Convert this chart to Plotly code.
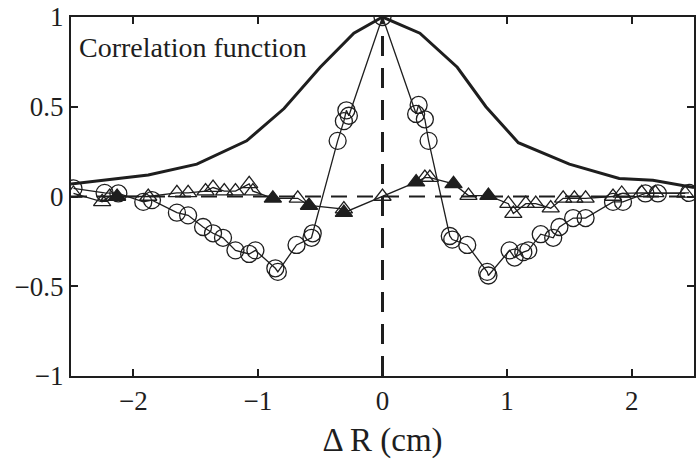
import plotly.graph_objects as go

# Envelope (correlation function)
env_x = [-2.5, -1.88, -1.49, -1.09, -0.79, -0.5, -0.23, 0.0, 0.3, 0.6, 0.83, 1.09, 1.5, 1.9, 2.17, 2.5]
env_y = [0.07, 0.12, 0.18, 0.31, 0.49, 0.72, 0.91, 1.0, 0.91, 0.72, 0.50, 0.30, 0.18, 0.10, 0.09, 0.05]

# Circles series
circ_x = [-2.48, -2.23, -2.12, -1.92, -1.85, -1.65, -1.56, -1.44, -1.36, -1.28,
          -1.18, -1.07, -1.02, -0.86, -0.84, -0.69, -0.57, -0.56,
          -0.36, -0.31, -0.29, -0.27, 0.0,
          0.27, 0.29, 0.34, 0.37,
          0.54, 0.56, 0.68, 0.84, 0.85, 1.02, 1.06, 1.13, 1.17,
          1.27, 1.37, 1.42, 1.53, 1.63, 1.85, 1.93, 2.11, 2.21, 2.46]
circ_y = [0.045, 0.02, 0.017, -0.03, -0.02, -0.09, -0.105, -0.17, -0.205, -0.23,
          -0.30, -0.32, -0.30, -0.40, -0.42, -0.27, -0.23, -0.205,
          0.31, 0.42, 0.48, 0.45, 1.0,
          0.46, 0.51, 0.43, 0.31,
          -0.22, -0.24, -0.27, -0.42, -0.44, -0.30, -0.34, -0.31, -0.30,
          -0.21, -0.23, -0.17, -0.12, -0.12, -0.03, -0.03, 0.017, 0.017, 0.02]

# Triangles series
tri_x = [-2.48, -2.25, -2.19, -2.13, -1.88, -1.65, -1.56, -1.42, -1.36, -1.27,
         -1.18, -1.07, -1.04, -0.88, -0.68, -0.59, -0.31, -0.31, 0.0,
         0.27, 0.34, 0.38, 0.57, 0.69, 0.85, 1.01, 1.05, 1.15, 1.23, 1.35,
         1.45, 1.54, 1.63, 1.85, 1.92, 2.08, 2.19, 2.43]
tri_y = [0.017, -0.03, 0.0, 0.0, 0.0, 0.02, 0.02, 0.03, 0.05, 0.03,
         0.03, 0.07, 0.03, -0.01, -0.01, -0.05, -0.07, -0.09, 0.0,
         0.08, 0.105, 0.105, 0.07, 0.005, 0.005, -0.04, -0.095, -0.04, -0.04, -0.065,
         -0.01, -0.01, -0.01, 0.0, 0.017, 0.02, 0.02, 0.017]
tri_filled = [0, 0, 0, 1, 0, 0, 0, 0, 0, 0,
              0, 0, 0, 1, 0, 1, 0, 1, 0,
              1, 0, 0, 1, 0, 1, 0, 0, 0, 0, 0,
              0, 0, 0, 0, 0, 0, 0, 0]

zero_x = [-2.5, 2.5]
zero_y = [0, 0]
vert_x = [0, 0]
vert_y = [-1, 1]

x_ticks = [-2, -1, 0, 1, 2]
y_ticks = [-1, -0.5, 0, 0.5, 1]

ink = "#1e1e1e"
serif = "Liberation Serif"
fig = go.Figure()

fig.add_trace(go.Scatter(x=zero_x, y=zero_y, mode="lines",
                         line=dict(color=ink, width=2, dash="16px,10px"), showlegend=False))
fig.add_trace(go.Scatter(x=vert_x, y=vert_y, mode="lines",
                         line=dict(color=ink, width=3, dash="20px,12px"), showlegend=False))
fig.add_trace(go.Scatter(x=env_x, y=env_y, mode="lines",
                         line=dict(color=ink, width=3), showlegend=False))
fig.add_trace(go.Scatter(x=circ_x, y=circ_y, mode="lines+markers",
                         line=dict(color=ink, width=1.3),
                         marker=dict(symbol="circle-open", size=17, color=ink,
                                     line=dict(width=1.3, color=ink)),
                         showlegend=False))
fig.add_trace(go.Scatter(x=tri_x, y=tri_y, mode="lines+markers",
                         line=dict(color=ink, width=1.3),
                         marker=dict(symbol=["triangle-up" if f else "triangle-up-open" for f in tri_filled],
                                     size=15, color=ink,
                                     line=dict(width=1.3, color=ink)),
                         showlegend=False))

fig.add_annotation(x=-2.45, y=0.83, xref="x", yref="y", text="Correlation function",
                   showarrow=False, xanchor="left", yanchor="middle",
                   font=dict(family=serif, size=28, color=ink))

axis_common = dict(showline=True, linecolor=ink, linewidth=2, mirror="ticks",
                   ticks="inside", ticklen=7, tickwidth=1.5, tickcolor=ink,
                   showgrid=False, zeroline=False,
                   tickfont=dict(family=serif, size=27, color=ink))

fig.update_layout(
    width=698, height=465,
    margin=dict(l=71, r=2, t=16, b=89),
    paper_bgcolor="white", plot_bgcolor="white",
    font=dict(family=serif, color=ink),
    xaxis=dict(range=[-2.5, 2.5], tickvals=x_ticks, ticktext=["\u22122", "\u22121", "0", "1", "2"],
               title=dict(text="\u0394 R (cm)", font=dict(family=serif, size=33, color=ink),
                          standoff=12),
               **axis_common),
    yaxis=dict(range=[-1, 1], tickvals=y_ticks, ticktext=["\u22121", "\u22120.5", "0", "0.5", "1"],
               **axis_common),
)

fig.write_html("out.html")
